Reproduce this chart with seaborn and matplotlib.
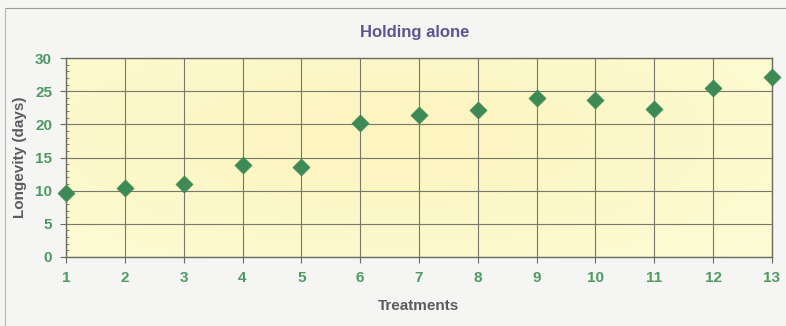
import numpy as np
import pandas as pd
import matplotlib
matplotlib.use("Agg")
import matplotlib.pyplot as plt
from matplotlib.ticker import MultipleLocator
import seaborn as sns

treatments = [1, 2, 3, 4, 5, 6, 7, 8, 9, 10, 11, 12, 13]
longevity = [9.7, 10.4, 11.0, 13.9, 13.5, 20.2, 21.4, 22.2, 23.9, 23.6, 22.3, 25.5, 27.2]
title = "Holding alone"
xlabel = "Treatments"
ylabel = "Longevity (days)"

df = pd.DataFrame({"Treatments": treatments, "Longevity": longevity})

sns.set_style("white")
plt.rcParams["font.family"] = ["Liberation Sans", "DejaVu Sans"]

fig = plt.figure(figsize=(7.86, 3.26), dpi=100, facecolor="#f5f5f3")
ax = fig.add_axes([66/786, 1-257/326, (772-66)/786, (257-58)/326])

# soft yellow gradient background
gy, gx = np.mgrid[0:1:200j, 0:1:400j]
g = np.exp(-(((gx-0.45)/0.5)**2 + ((gy-0.6)/0.6)**2))
c0 = np.array([253, 252, 214]) / 255
c1 = np.array([252, 245, 192]) / 255
img = c0[None, None, :] * (1-g[..., None]) + c1[None, None, :] * g[..., None]
ax.imshow(img, extent=[1, 13, 0, 30], aspect="auto", zorder=0, origin="lower")

sns.scatterplot(data=df, x="Treatments", y="Longevity", ax=ax, marker="D",
                s=75, color="#3e8a55", edgecolor="#3e8a55", linewidth=0.5,
                zorder=5, clip_on=False)

ax.set_xlim(1, 13)
ax.set_ylim(0, 30)
ax.set_xticks(treatments)
ax.set_yticks(range(0, 31, 5))
ax.yaxis.set_minor_locator(MultipleLocator(1))
ax.grid(True, which="major", color="#77776c", linewidth=0.8, zorder=1)
ax.set_axisbelow(True)
for s in ax.spines.values():
    s.set_color("#6b6b60")
    s.set_linewidth(1.0)
ax.tick_params(axis="both", which="major", length=4, color="#6b6b60",
               labelcolor="#4f9a63", labelsize=11, pad=6, left=True, bottom=True)
ax.tick_params(axis="y", which="minor", length=2.5, direction="in",
               color="#6b6b60", left=True)
for lab in ax.get_xticklabels() + ax.get_yticklabels():
    lab.set_fontweight("bold")

ax.set_xlabel(xlabel, fontsize=11, fontweight="bold", color="#5b5b60", labelpad=10)
ax.set_ylabel(ylabel, fontsize=11, fontweight="bold", color="#5b5b60", labelpad=6)
fig.text(415/786, 1-33/326, title, ha="center", va="center", fontsize=12,
         fontweight="bold", color="#5d5590")

# thin frame lines of the chart area
fig.add_artist(plt.Line2D([5/786, 1], [1-8/326, 1-8/326], color="#9a9a98", linewidth=0.8))
fig.add_artist(plt.Line2D([5/786, 5/786], [0, 1-8/326], color="#b5b5b3", linewidth=0.8))

fig.savefig("out.png", dpi=100, facecolor=fig.get_facecolor())
